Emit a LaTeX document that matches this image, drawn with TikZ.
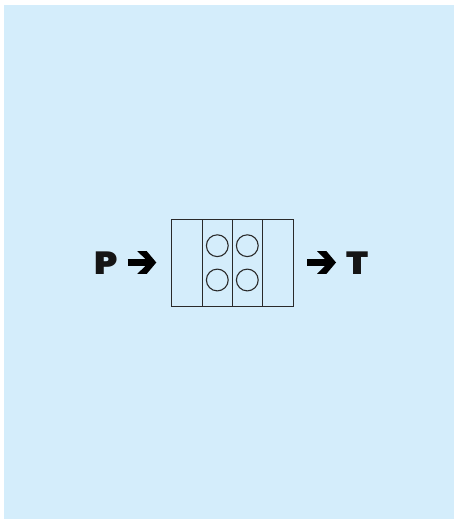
\documentclass[tikz,border=0pt]{standalone}
\usepackage{fontspec}
\usetikzlibrary{arrows.meta}
\newfontfamily\lab{Poppins}[UprightFont=* Black,FakeStretch=1.12]
\definecolor{bgblue}{HTML}{D4EDFB}
\definecolor{inkline}{HTML}{2A2A2A}
\definecolor{inkbold}{HTML}{151515}
\pgfdeclarearrow{
  name=ChevronHead,
  setup code={\pgfarrowssettipend{0pt}\pgfarrowssetlineend{-8pt}\pgfarrowssetvisualbackend{-19pt}\pgfarrowssetbackend{-19pt}},
  drawing code={
    \pgfpathmoveto{\pgfqpoint{0pt}{0pt}}
    \pgfpathlineto{\pgfqpoint{-9.6pt}{11.4pt}}
    \pgfpathlineto{\pgfqpoint{-19pt}{11.4pt}}
    \pgfpathlineto{\pgfqpoint{-10.5pt}{3pt}}
    \pgfpathlineto{\pgfqpoint{-10.5pt}{-3pt}}
    \pgfpathlineto{\pgfqpoint{-19pt}{-11.4pt}}
    \pgfpathlineto{\pgfqpoint{-9.6pt}{-11.4pt}}
    \pgfpathclose
    \pgfusepathqfill
  }
}
\tikzset{
  labeltext/.style={font=\lab\fontsize{32}{32}\selectfont, text=inkbold, inner sep=0pt, anchor=center},
  cell/.style={draw=inkline, line width=1pt, minimum height=87pt, inner sep=0pt, outer sep=0pt},
  hole/.style={circle, draw=inkline, line width=1.1pt, minimum size=21.8pt, inner sep=0pt},
  flow/.style={draw=black, line width=6.8pt, -{ChevronHead}}
}
\begin{document}
\begin{tikzpicture}[x=1pt,y=-1pt]
\useasboundingbox (0,0) rectangle (454,519);
\fill[white] (0,0) rectangle (454,519);
\fill[bgblue] (4,5) rectangle (454,519);
\node[cell, minimum width=30.6pt] (c1) at (187,262.5) {};
\node[cell, minimum width=30.4pt] (c2) at (217.5,262.5) {};
\node[cell, minimum width=30pt] (c3) at (247.7,262.5) {};
\node[cell, minimum width=30.6pt] (c4) at (278,262.5) {};
\node[hole] (h1) at (217.3,245.7) {};
\node[hole] (h2) at (217.3,280) {};
\node[hole] (h3) at (247.3,245.7) {};
\node[hole] (h4) at (247.3,280) {};
\node[labeltext] (P) at (105.7,262.8) {P};
\node[labeltext] (T) at (357.3,262.8) {T};
\coordinate (a1s) at (127.7,262.5);
\coordinate (a1e) at (156.3,262.5);
\coordinate (a2s) at (307.2,262.5);
\coordinate (a2e) at (336,262.5);
\draw[flow] (a1s) -- (a1e);
\draw[flow] (a2s) -- (a2e);
\end{tikzpicture}
\end{document}
